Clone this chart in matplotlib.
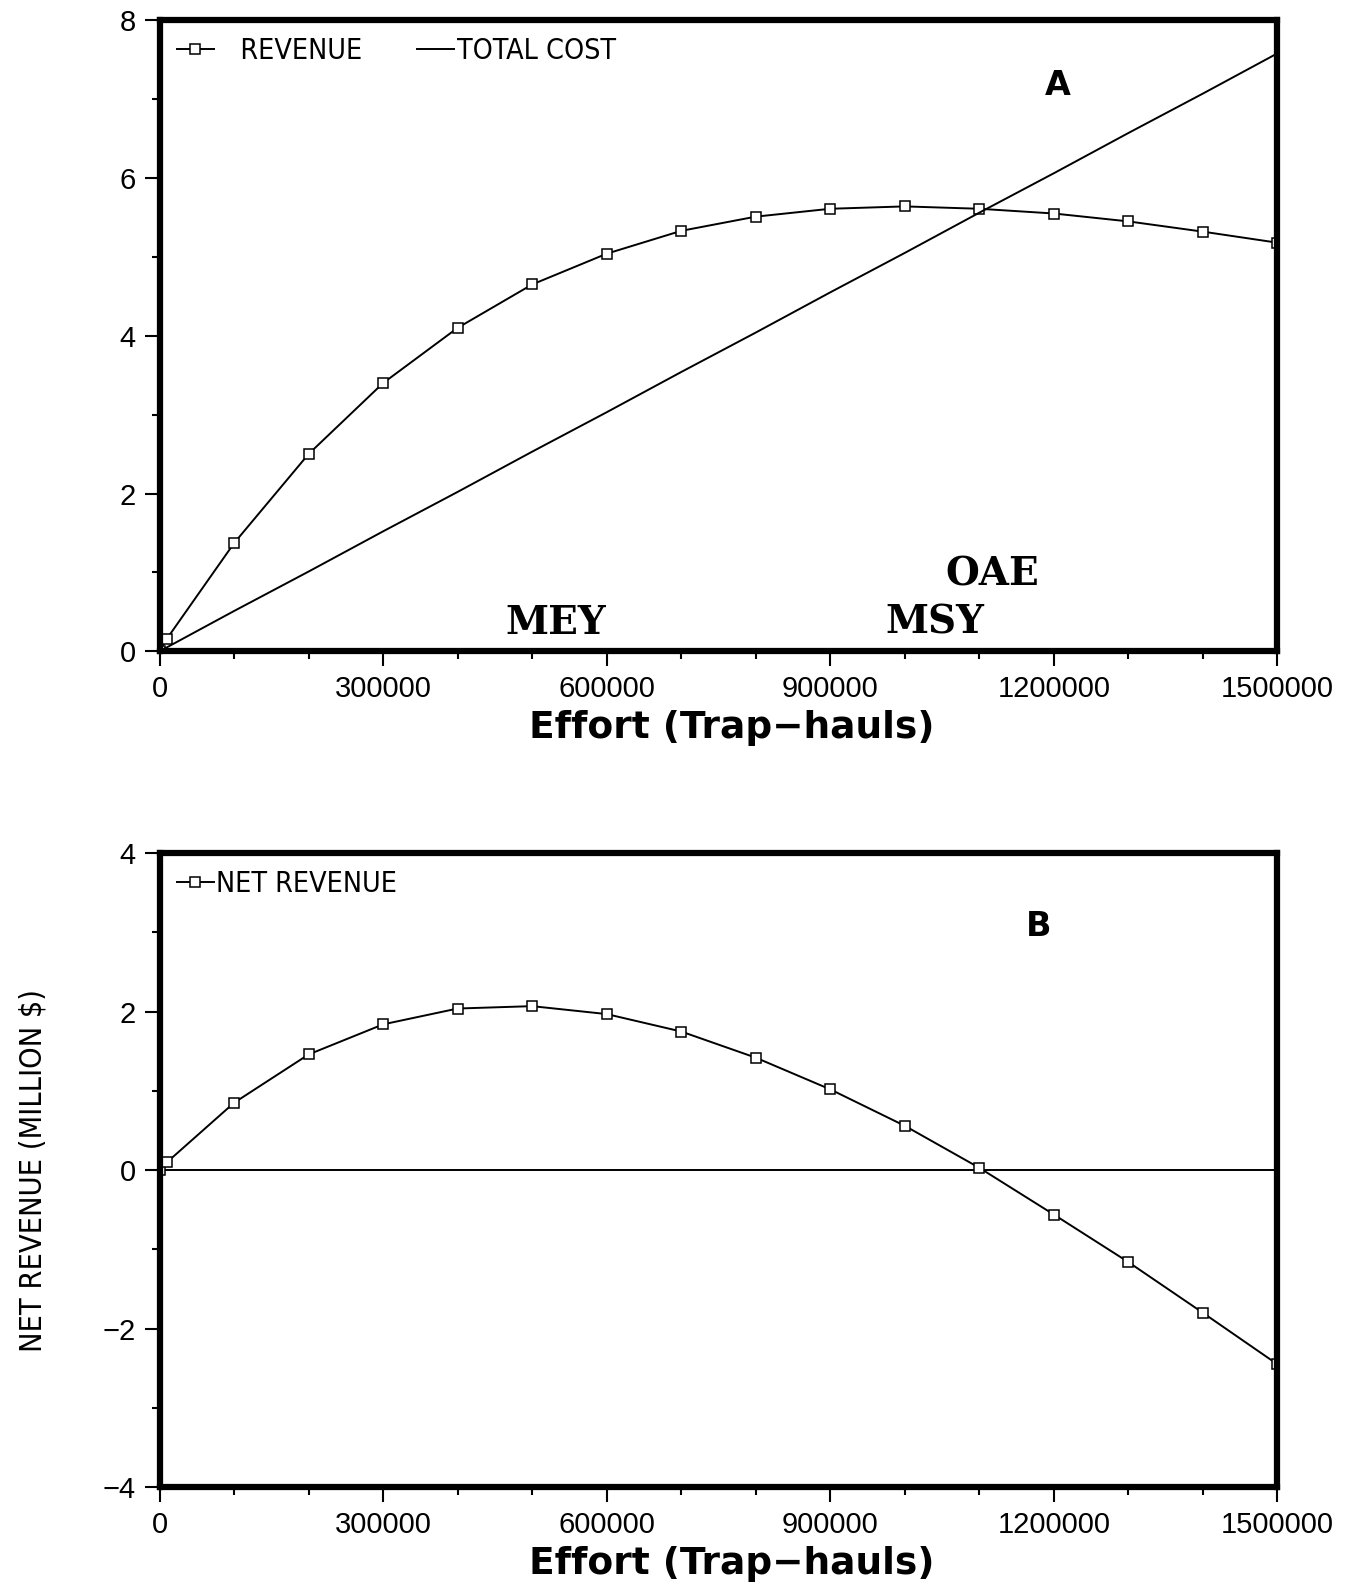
import matplotlib
matplotlib.use('Agg')
import matplotlib.pyplot as plt
from matplotlib.ticker import MultipleLocator

# Effort (trap-hauls) and values in million $
effort = [0, 10000, 100000, 200000, 300000, 400000, 500000, 600000, 700000,
          800000, 900000, 1000000, 1100000, 1200000, 1300000, 1400000, 1500000]
revenue = [0.0, 0.16, 1.37, 2.50, 3.40, 4.10, 4.65, 5.04, 5.33,
           5.51, 5.61, 5.64, 5.61, 5.55, 5.45, 5.32, 5.18]
total_cost = [0.0, 0.05, 0.51, 1.01, 1.52, 2.02, 2.53, 3.03, 3.54,
              4.04, 4.55, 5.05, 5.56, 6.06, 6.57, 7.07, 7.58]
net_revenue = [0.0, 0.10, 0.85, 1.46, 1.84, 2.04, 2.07, 1.97, 1.75,
               1.42, 1.02, 0.56, 0.03, -0.56, -1.16, -1.80, -2.45]

x_ticks = [0, 300000, 600000, 900000, 1200000, 1500000]
top_yticks = [0, 2, 4, 6, 8]
bot_yticks = [-4, -2, 0, 2, 4]

tick_font = ['Liberation Sans', 'DejaVu Sans']
label_font = ['DejaVu Sans']
mark_font = ['DejaVu Serif']
narrow = {'family': 'DejaVu Sans', 'stretch': 'condensed', 'size': 20.5}

fig = plt.figure(figsize=(13.45, 15.83), dpi=100)
ax1 = fig.add_axes([0.1186, 0.5886, 0.8311, 0.3986])
ax2 = fig.add_axes([0.1186, 0.0606, 0.8311, 0.4004])


def style_axes(ax, yticks, ylim):
    ax.set_xlim(0, 1500000)
    ax.set_ylim(*ylim)
    ax.set_xticks(x_ticks)
    ax.set_xticklabels([str(t) for t in x_ticks], family=tick_font, fontsize=21)
    ax.xaxis.set_minor_locator(MultipleLocator(100000))
    ax.set_yticks(yticks)
    ax.set_yticklabels([str(t).replace('-', '\u2212') for t in yticks],
                       family=tick_font, fontsize=21)
    ax.yaxis.set_minor_locator(MultipleLocator(1))
    for s in ax.spines.values():
        s.set_linewidth(4.5)
    ax.tick_params(which='major', direction='out', length=11, width=1.5, pad=6)
    ax.tick_params(which='minor', direction='out', length=6, width=1.5)
    ax.set_xlabel('Effort (Trap\u2212hauls)', family=label_font, fontweight='bold',
                  fontsize=27, labelpad=5)
    ax.xaxis.label.set_x(0.512)


# Panel A
ax1.plot(effort, revenue, color='black', lw=1.4, marker='s', markersize=7.5,
         markerfacecolor='white', markeredgewidth=1.1, label='   REVENUE')
ax1.plot(effort, total_cost, color='black', lw=1.4, label='TOTAL COST')
style_axes(ax1, top_yticks, (0, 8))
ax1.legend(loc='upper left', ncol=2, frameon=False, numpoints=1,
           prop=narrow, handlelength=1.3,
           handletextpad=0.1, columnspacing=1.9, borderaxespad=0.2)
ax1.text(1205000, 7.17, 'A', family=label_font, fontweight='bold', fontsize=24,
         ha='center', va='center')
for txt, xv, yv in [('MEY', 531000, 0.36), ('MSY', 1040000, 0.36), ('OAE', 1118000, 0.97)]:
    ax1.text(xv, yv, txt, family=mark_font, fontweight='heavy', fontsize=28,
             ha='center', va='center')

# Panel B
ax2.axhline(0, color='black', lw=1.4)
ax2.plot(effort, net_revenue, color='black', lw=1.4, marker='s', markersize=7.5,
         markerfacecolor='white', markeredgewidth=1.1, label='NET REVENUE')
style_axes(ax2, bot_yticks, (-4, 4))
ax2.legend(loc='upper left', frameon=False, numpoints=1,
           prop=narrow, handlelength=1.3,
           handletextpad=0.1, borderaxespad=0.2)
ax2.text(1179000, 3.08, 'B', family=label_font, fontweight='bold', fontsize=24,
         ha='center', va='center')
ax2.set_ylabel('NET REVENUE (MILLION $)', family='DejaVu Sans', fontstretch='condensed',
               fontsize=22, labelpad=40)

fig.savefig('out.png', dpi=100)
